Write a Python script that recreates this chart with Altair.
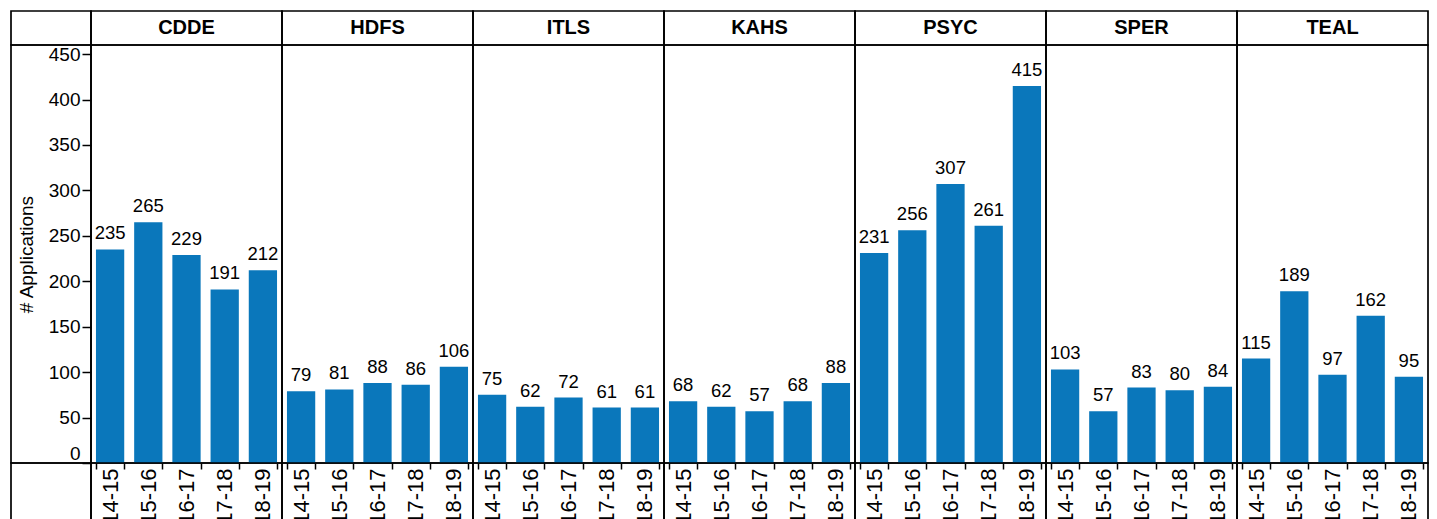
import altair as alt
import pandas as pd

depts = ["CDDE", "HDFS", "ITLS", "KAHS", "PSYC", "SPER", "TEAL"]
years = ["14-15", "15-16", "16-17", "17-18", "18-19"]
cdde = [235, 265, 229, 191, 212]
hdfs = [79, 81, 88, 86, 106]
itls = [75, 62, 72, 61, 61]
kahs = [68, 62, 57, 68, 88]
psyc = [231, 256, 307, 261, 415]
sper = [103, 57, 83, 80, 84]
teal = [115, 189, 97, 162, 95]
series = [cdde, hdfs, itls, kahs, psyc, sper, teal]

FONT = "Liberation Sans"
BLUE = "#0a77bb"
PANEL_W = 191
AXIS_W = 80
HEAD_H = 34
PLOT_H = 418
LAB_H = 70

rows = []
for d, vals in zip(depts, series):
    for y, v in zip(years, vals):
        rows.append({"dept": d, "year": y, "value": v})
df = pd.DataFrame(rows)

yscale = alt.Scale(domain=[0, 460], nice=False, zero=True)
xscale = alt.Scale(paddingInner=0.26, paddingOuter=0.13)


def text_cell(txt, w, h, bold=False):
    return alt.Chart(pd.DataFrame({"t": [txt]})).mark_text(
        font=FONT, fontSize=20, fontWeight="bold" if bold else "normal",
        color="black", baseline="middle"
    ).encode(
        x=alt.X("t:N", axis=None),
        text="t:N",
    ).properties(width=w, height=h)


yaxis = alt.Axis(
    orient="left",
    values=[0, 50, 100, 150, 200, 250, 300, 350, 400, 450],
    domain=False,
    grid=False,
    tickColor="black",
    tickWidth=1.5,
    tickSize=9,
    labelFont=FONT,
    labelFontSize=19,
    labelColor="black",
    labelPadding=2,
    labelFlush=True,
    title="# Applications",
    titleFont=FONT,
    titleFontSize=19,
    titleFontWeight="normal",
    titleColor="black",
    titlePadding=12,
)

xaxis = alt.Axis(
    orient="bottom",
    domain=False,
    grid=False,
    tickBand="extent",
    tickColor="black",
    tickWidth=1.5,
    tickSize=6,
    labelAngle=-90,
    labelFont=FONT,
    labelFontSize=22,
    labelColor="black",
    labelPadding=-1,
    title=None,
)

cells = []
# Row 1: headers
cells.append(text_cell("", AXIS_W, HEAD_H))
for d in depts:
    cells.append(text_cell(d, PANEL_W, HEAD_H, bold=True))

# Row 2: axis cell + bar panels
cells.append(text_cell("", AXIS_W, PLOT_H))
for i, d in enumerate(depts):
    base = alt.Chart(df[df["dept"] == d]).encode(
        x=alt.X("year:N", sort=years, scale=xscale, axis=xaxis),
        y=alt.Y("value:Q", scale=yscale, axis=yaxis if i == 0 else None),
    )
    bars = base.mark_bar(color=BLUE)
    labels = base.mark_text(
        font=FONT, fontSize=18.5, color="black", baseline="alphabetic", dy=-10
    ).encode(text="value:Q")
    cells.append((bars + labels).properties(width=PANEL_W, height=PLOT_H))

# Row 3: bordered cells under the x labels
cells.append(text_cell("", AXIS_W, LAB_H))
for d in depts:
    cells.append(text_cell("", PANEL_W, LAB_H))

chart = alt.concat(*cells, columns=8, spacing=0, bounds="flush").properties(
    padding={"left": 2, "top": 2, "right": 0, "bottom": 0}
).configure_view(
    stroke="black", strokeWidth=1.7
).configure_concat(spacing=0)

chart.save("out.html", embed_options={"renderer": "svg", "actions": False})
